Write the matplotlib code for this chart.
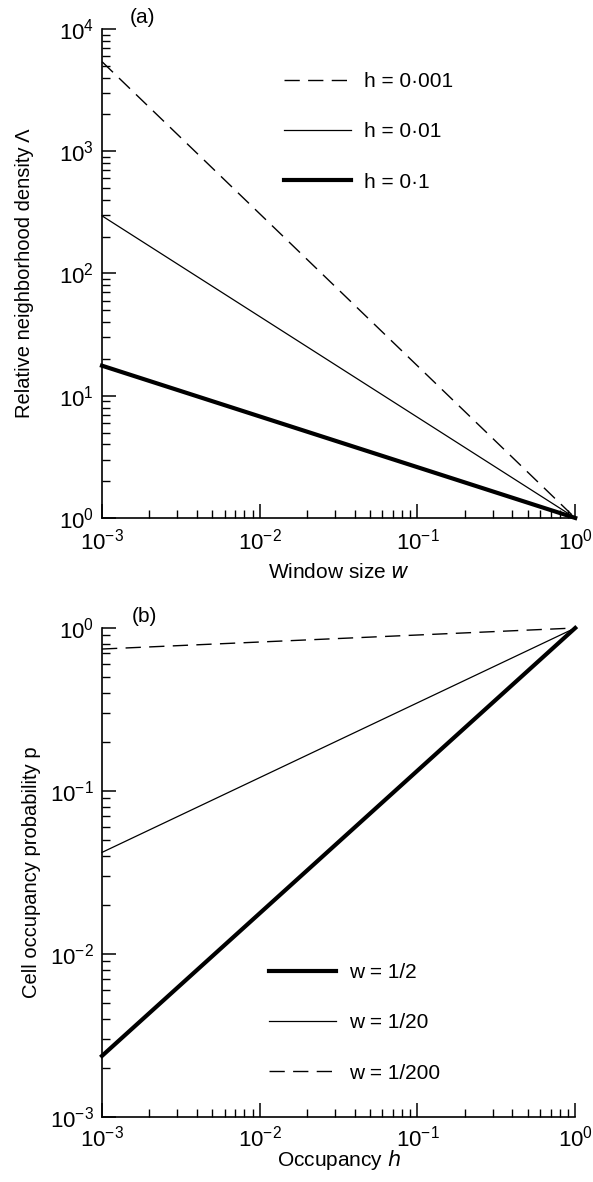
import matplotlib
matplotlib.use('Agg')
import matplotlib.pyplot as plt
from matplotlib.ticker import LogLocator, NullFormatter

plt.rcParams['font.family'] = ['Liberation Sans', 'DejaVu Sans']
plt.rcParams['mathtext.default'] = 'regular'
plt.rcParams['font.size'] = 14

# panel (a): relative neighborhood density vs window size
w_vals = [1e-3, 1.0]
lam_h0001 = [5400, 1.0]
lam_h001 = [296, 1.0]
lam_h01 = [17.6, 1.0]

# panel (b): cell occupancy probability vs occupancy
h_vals = [1e-3, 1.0]
p_w2 = [0.00237, 1.0]
p_w20 = [0.042, 1.0]
p_w200 = [0.743, 1.0]


def style_axes(ax, ylim, xpad):
    ax.set_xscale('log')
    ax.set_yscale('log')
    ax.set_xlim(1e-3, 1)
    ax.set_ylim(*ylim)
    for s in ['top', 'right']:
        ax.spines[s].set_visible(False)
    for s in ['left', 'bottom']:
        ax.spines[s].set_linewidth(1.2)
    ax.xaxis.set_major_locator(LogLocator(base=10, numticks=10))
    ax.xaxis.set_minor_locator(LogLocator(base=10, subs=range(2, 10), numticks=10))
    ax.yaxis.set_major_locator(LogLocator(base=10, numticks=10))
    ax.yaxis.set_minor_locator(LogLocator(base=10, subs=range(2, 10), numticks=10))
    ax.xaxis.set_minor_formatter(NullFormatter())
    ax.yaxis.set_minor_formatter(NullFormatter())
    ax.tick_params(which='major', direction='in', length=10, width=1.1, labelsize=16)
    ax.tick_params(which='minor', direction='in', length=6, width=1.0)
    ax.tick_params(axis='y', pad=6)
    ax.tick_params(axis='x', pad=xpad)


fig = plt.figure(figsize=(5.93, 11.82), dpi=100)
ax1 = fig.add_axes([0.172, 0.5618, 0.798, 0.4137])
ax2 = fig.add_axes([0.172, 0.055, 0.798, 0.4137])

leg_kw = dict(loc='upper left', frameon=False, fontsize=15, handlelength=3.2,
              handletextpad=0.63, labelspacing=1.5)

# (a)
ax1.plot(w_vals, lam_h0001, color='black', lw=1.0, dashes=(11, 6),
         label='h = 0·001', clip_on=False)
ax1.plot(w_vals, lam_h001, color='black', lw=0.9, label='h = 0·01', clip_on=False)
ax1.plot(w_vals, lam_h01, color='black', lw=3.0, label='h = 0·1', clip_on=False)
style_axes(ax1, (1, 1e4), 8)
ax1.set_xlabel('Window size $\\it{w}$', fontsize=15, labelpad=6)
ax1.set_ylabel('Relative neighborhood density \u039b', fontsize=14.5, labelpad=18)
ax1.text(0.059, 1.004, '(a)', transform=ax1.transAxes, fontsize=15,
         ha='left', va='bottom')
ax1.legend(bbox_to_anchor=(0.345, 0.95), **leg_kw)

# (b)
ax2.plot(h_vals, p_w2, color='black', lw=3.0, label='w = 1/2', clip_on=False)
ax2.plot(h_vals, p_w20, color='black', lw=0.9, label='w = 1/20', clip_on=False)
ax2.plot(h_vals, p_w200, color='black', lw=1.0, dashes=(11, 6),
         label='w = 1/200', clip_on=False)
style_axes(ax2, (1e-3, 1), 6)
ax2.set_xlabel('Occupancy $\\it{h}$', fontsize=15, labelpad=-2)
ax2.set_ylabel('Cell occupancy probability p', fontsize=14.5, labelpad=6)
ax2.text(0.063, 1.004, '(b)', transform=ax2.transAxes, fontsize=15,
         ha='left', va='bottom')
ax2.legend(bbox_to_anchor=(0.313, 0.353), **leg_kw)

fig.savefig('out.png', dpi=100)
